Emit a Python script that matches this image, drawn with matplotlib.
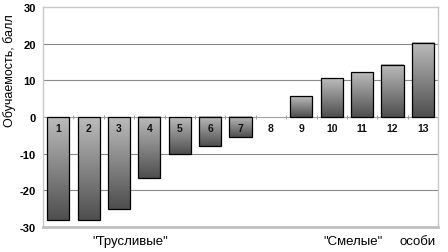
import matplotlib
matplotlib.use("Agg")
import matplotlib.pyplot as plt
import numpy as np

plt.rcParams['font.family'] = ['Liberation Sans', 'DejaVu Sans']

# данные
ids = [1, 2, 3, 4, 5, 6, 7, 8, 9, 10, 11, 12, 13]
scores = [-28.0, -28.0, -25.0, -16.7, -10.0, -8.0, -5.5, 0.0, 5.7, 10.6, 12.2, 14.2, 20.2]
yticks = [-30, -20, -10, 0, 10, 20, 30]
ylabel = "Обучаемость, балл"
group_labels = ['"Трусливые"', '"Смелые"', 'особи']

fig = plt.figure(figsize=(4.48, 2.53), dpi=100)
ax = fig.add_axes([0.096, 0.099, 0.882, 0.869])

w = 0.73
grad = np.linspace(0, 1, 256).reshape(-1, 1)
cmap = matplotlib.colors.LinearSegmentedColormap.from_list("g", ["#4e4e4e", "#bcbcbc"])

for x, v in zip(ids, scores):
    if v == 0:
        continue
    lo, hi = min(0, v), max(0, v)
    ax.imshow(grad, cmap=cmap, extent=[x - w/2, x + w/2, lo, hi],
              origin='lower', aspect='auto', zorder=2, interpolation='bilinear')
    ax.add_patch(plt.Rectangle((x - w/2, lo), w, hi - lo, fill=False,
                               edgecolor='black', lw=0.9, zorder=3))

for x in ids:
    ax.text(x, -3.0, str(x), ha='center', va='center', fontsize=7.5,
            fontweight='bold', color='#111111', zorder=4)

# сетка и нулевая линия
for y in [-20, -10, 10, 20]:
    ax.axhline(y, color='#8a8a8a', lw=0.8, zorder=1)
ax.axhline(0, color='#a0a0a0', lw=0.8, zorder=1)
ax.vlines(np.arange(1.5, 13.5, 1.0), -0.6, 0.6, color='#a0a0a0', lw=0.7, zorder=1)

ax.set_xlim(0.5, 13.5)
ax.set_ylim(-30, 30)
ax.set_xticks([])
ax.set_yticks(yticks)
ax.set_yticklabels([str(t) for t in yticks], fontsize=8, fontweight='bold')
ax.tick_params(axis='y', length=0, pad=5)

for s in ['left', 'top', 'right']:
    ax.spines[s].set_color('#c8c8c8')
    ax.spines[s].set_linewidth(1.0)
ax.spines['bottom'].set_color('#c0c0c0')
ax.spines['bottom'].set_linewidth(2.0)

fig.text(0.022, 0.72, ylabel, fontsize=9, rotation=90, ha='center', va='center')
fig.text(0.29, 0.045, group_labels[0], fontsize=9.5, ha='center', va='center')
fig.text(0.787, 0.045, group_labels[1], fontsize=9.5, ha='center', va='center')
fig.text(0.933, 0.045, group_labels[2], fontsize=9.5, ha='center', va='center')

fig.savefig("out.png", dpi=100)
